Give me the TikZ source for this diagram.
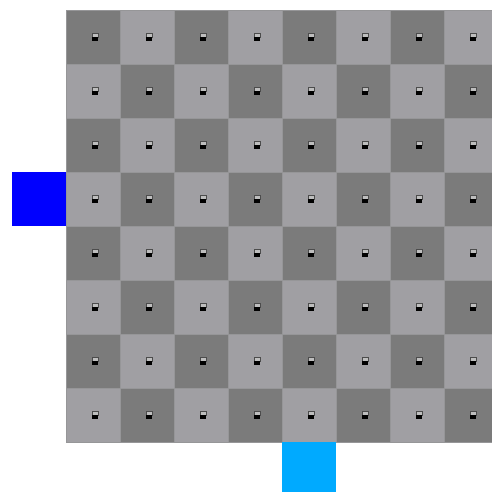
\documentclass[tikz,border=0pt]{standalone}
\definecolor{darksq}{RGB}{123,123,123}
\definecolor{lightsq}{RGB}{160,159,163}
\definecolor{gridln}{RGB}{150,150,152}
\definecolor{pureblue}{RGB}{0,0,255}
\definecolor{skyblue}{RGB}{0,170,255}
\definecolor{marktop}{RGB}{190,190,190}
\tikzset{
  sq/.style={draw=gridln,line width=0.6pt},
  marker/.style={inner sep=0pt,minimum width=6pt,minimum height=7pt}
}
\begin{document}
\begin{tikzpicture}[x=1pt,y=-1pt]
\useasboundingbox (0,0) rectangle (492,492);
\begin{scope}
\clip (0,0) rectangle (492,492);
\foreach \r in {0,...,7}{
  \foreach \c in {0,...,7}{
    \pgfmathtruncatemacro{\parity}{mod(\r+\c,2)}
    \ifnum\parity=0
      \filldraw[fill=darksq,sq] (66+54*\c,10+54*\r) rectangle ++(54,54);
    \else
      \filldraw[fill=lightsq,sq] (66+54*\c,10+54*\r) rectangle ++(54,54);
    \fi
    \node[marker] (m\r\c) at (95+54*\c,37+54*\r) {};
    \filldraw[fill=marktop,draw=black!70,line width=0.5pt] (m\r\c.north west) rectangle ([yshift=-4pt]m\r\c.north east);
    \fill[black] ([yshift=-4pt]m\r\c.north west) rectangle (m\r\c.south east);
  }
}
\end{scope}
\node[fill=pureblue,inner sep=0pt,minimum width=54pt,minimum height=54pt] (left) at (39,199) {};
\node[fill=skyblue,inner sep=0pt,minimum width=54pt,minimum height=50pt] (bottom) at (309,467) {};
\end{tikzpicture}
\end{document}
